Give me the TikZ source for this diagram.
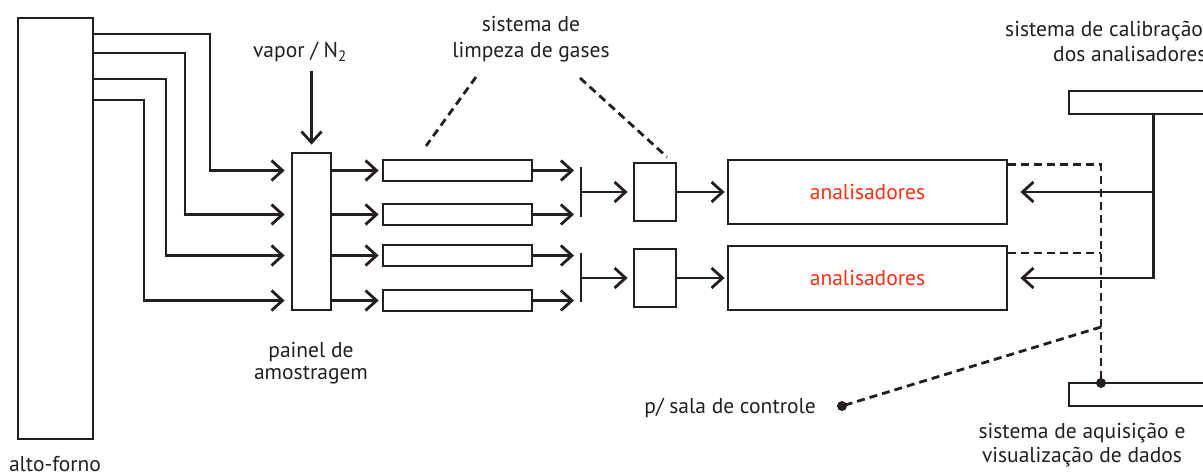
\documentclass[tikz,border=0pt]{standalone}
\usepackage{fontspec}
\setmainfont{PT Sans}
\usetikzlibrary{arrows.meta,calc}
\definecolor{ink}{RGB}{35,31,32}
\definecolor{anred}{RGB}{255,45,20}
\tikzset{
  box/.style={draw=ink, line width=2.8pt, rectangle, inner sep=0pt},
  ln/.style={draw=ink, line width=2.8pt},
  arr/.style={draw=ink, line width=2.8pt, -{Straight Barb[length=11pt,width=20pt]}},
  dsh/.style={draw=ink, line width=2.8pt, dash pattern=on 8pt off 5pt},
  lbl/.style={text=ink, font=\fontsize{21.5}{25}\selectfont, inner sep=0pt},
  dotn/.style={circle, fill=ink, inner sep=0pt, minimum size=10pt},
}
\begin{document}
\begin{tikzpicture}[x=1pt,y=-1pt]
\useasboundingbox (0,0) rectangle (1203,476);
\clip (0,0) rectangle (1203,476);
% boxes
\node[box, minimum width=75pt, minimum height=421pt] (af) at (55.5,228.5) {};
\node[box, minimum width=39pt, minimum height=157pt] (pa) at (311.5,231.5) {};
\node[box, minimum width=149pt, minimum height=21pt] (c1) at (457.5,170.5) {};
\node[box, minimum width=149pt, minimum height=21pt] (c2) at (457.5,214.5) {};
\node[box, minimum width=149pt, minimum height=21pt] (c3) at (457.5,255.5) {};
\node[box, minimum width=149pt, minimum height=21pt] (c4) at (457.5,300.5) {};
\node[box, minimum width=42pt, minimum height=58pt] (s1) at (655,192) {};
\node[box, minimum width=42pt, minimum height=58pt] (s2) at (655,278) {};
\node[box, minimum width=279pt, minimum height=64pt, text=anred, font=\fontsize{21.5}{25}\selectfont] (an1) at (867.5,192) {analisadores};
\node[box, minimum width=279pt, minimum height=64pt, text=anred, font=\fontsize{21.5}{25}\selectfont] (an2) at (867.5,278) {analisadores};
\node[box, minimum width=169pt, minimum height=23pt] (cal) at (1153.5,102.5) {};
\node[box, minimum width=169pt, minimum height=23pt] (acq) at (1153.5,394.5) {};
\node[dotn] (dt) at (1101,383) {};
\node[dotn] (sd) at (842,406) {};
% helper coordinates
\coordinate (r1) at (0,34);
\coordinate (r2) at (0,53);
\coordinate (r3) at (0,79);
\coordinate (r4) at (0,100);
\coordinate (v1) at (210,0);
\coordinate (v2) at (185,0);
\coordinate (v3) at (166,0);
\coordinate (v4) at (144,0);
\coordinate (vap) at (311.5,71);
\coordinate (b1t) at (581,167);
\coordinate (b1b) at (581,217);
\coordinate (b2t) at (581,253);
\coordinate (b2b) at (581,302);
\coordinate (j2) at (1101,253);
\coordinate (j3) at (1101,327);
\coordinate (lg1) at (476,77);
\coordinate (lg1e) at (426,146);
\coordinate (lg2) at (580,78);
\coordinate (lg2e) at (667,157);
% alto-forno to painel
\draw[arr, shorten >=6pt] (af.east |- r1) -| (v1 |- c1) -- (pa.west |- c1);
\draw[arr, shorten >=6pt] (af.east |- r2) -| (v2 |- c2) -- (pa.west |- c2);
\draw[arr, shorten >=6pt] (af.east |- r3) -| (v3 |- c3) -- (pa.west |- c3);
\draw[arr, shorten >=6pt] (af.east |- r4) -| (v4 |- c4) -- (pa.west |- c4);
\draw[arr, shorten >=7pt] (vap) -- (pa.north);
% painel to cleaning boxes
\draw[arr, shorten >=3pt] (pa.east |- c1) -- (c1.west);
\draw[arr, shorten >=3pt] (pa.east |- c2) -- (c2.west);
\draw[arr, shorten >=3pt] (pa.east |- c3) -- (c3.west);
\draw[arr, shorten >=3pt] (pa.east |- c4) -- (c4.west);
% cleaning boxes to bars
\draw[arr, shorten >=7pt] (c1.east) -- (b1t |- c1.east);
\draw[arr, shorten >=7pt] (c2.east) -- (b1t |- c2.east);
\draw[arr, shorten >=7pt] (c3.east) -- (b1t |- c3.east);
\draw[arr, shorten >=7pt] (c4.east) -- (b1t |- c4.east);
\draw[ln] (b1t) -- (b1b);
\draw[ln] (b2t) -- (b2b);
\draw[arr, shorten >=5pt] (b1t |- s1.west) -- (s1.west);
\draw[arr, shorten >=5pt] (b1t |- s2.west) -- (s2.west);
\draw[arr, shorten >=2pt] (s1.east) -- (an1.west);
\draw[arr, shorten >=2pt] (s2.east) -- (an2.west);
% calibration
\draw[arr, shorten >=12pt] (cal.south) |- (an2.east);
\draw[arr, shorten >=12pt] (cal.south |- an1.east) -- (an1.east);
% dashed
\draw[dsh] ([yshift=-6pt]an1.north east) -| (dt.center);
\draw[dsh] (an2.north east |- j2) -- (j2);
\draw[dsh] (j3) -- (sd.center);
\draw[dsh] (lg1) -- (lg1e);
\draw[dsh] (lg2) -- (lg2e);
% labels
\node[lbl, anchor=base] (tAF) at (55,471) {alto-forno};
\node[lbl, anchor=base] (tV) at (300,58) {vapor / N\textsubscript{2}};
\node[lbl, anchor=base] (tL1) at (531,32) {sistema de};
\node[lbl, anchor=base] (tL2) at (531,58) {limpeza de gases};
\node[lbl, anchor=base] (tP1) at (311,357) {painel de};
\node[lbl, anchor=base] (tP2) at (311,379) {amostragem};
\node[lbl, anchor=base west] (tC1) at (1005,37) {sistema de calibração};
\node[lbl, anchor=base west] (tC2) at (1053,62) {dos analisadores};
\node[lbl, anchor=base east] (tS) at (816,413) {p/ sala de controle};
\node[lbl, anchor=base] (tA1) at (1082,438) {sistema de aquisição e};
\node[lbl, anchor=base] (tA2) at (1082,462) {visualização de dados};
\end{tikzpicture}
\end{document}
